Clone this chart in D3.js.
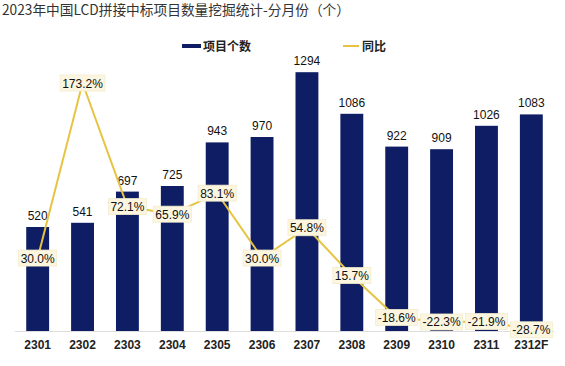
<!DOCTYPE html>
<html><head><meta charset="utf-8">
<script src="https://cdn.jsdelivr.net/npm/d3@7"></script>
<style>body{margin:0;background:#fff;} svg{display:block;}</style>
</head><body>
<svg id="c" width="565" height="366"></svg>
<script>
const categories = ["2301","2302","2303","2304","2305","2306","2307","2308","2309","2310","2311","2312F"];
const counts = [520,541,697,725,943,970,1294,1086,922,909,1026,1083];
const yoy = [30.0,173.2,72.1,65.9,83.1,30.0,54.8,15.7,-18.6,-22.3,-21.9,-28.7];
const title = "2023年中国LCD拼接中标项目数量挖掘统计-分月份（个）";
const legendNames = ["项目个数","同比"];

const svg = d3.select("#c");
const barColor = "#0f1e64", lineColor = "#e6c340";
const x = d3.scaleBand().domain(categories).range([15, 554]).paddingInner(0.49).paddingOuter(0.25);
const y = d3.scaleLinear().domain([0,1300]).range([331,71]);
const y2 = d3.scaleLinear().domain([-30,180]).range([331.4,74.7]);
const cx = d => x(d) + x.bandwidth()/2;

svg.append("text").attr("x",2).attr("y",15).attr("font-family","Noto Sans CJK SC").attr("font-size",14)
  .attr("fill","#333").attr("textLength",348).attr("lengthAdjust","spacingAndGlyphs").text(title);

// legend
const lg = svg.append("g").attr("font-family","Noto Sans CJK SC").attr("font-size",12).attr("font-weight","bold").attr("fill","#222");
lg.append("rect").attr("x",182).attr("y",44).attr("width",19).attr("height",4).attr("fill",barColor);
lg.append("text").attr("x",203).attr("y",50.5).text(legendNames[0]);
lg.append("line").attr("x1",343).attr("x2",359).attr("y1",46).attr("y2",46).attr("stroke",lineColor).attr("stroke-width",2);
lg.append("text").attr("x",362).attr("y",50.5).text(legendNames[1]);

// bars
svg.append("g").selectAll("rect").data(categories).join("rect")
  .attr("x", d=>x(d)).attr("width", x.bandwidth())
  .attr("y",(d,i)=>y(counts[i])).attr("height",(d,i)=>y(0)-y(counts[i]))
  .attr("fill",barColor);

// axis
const ax = svg.append("g").attr("transform",`translate(0,${y(0)})`).call(d3.axisBottom(x).tickSize(0).tickPadding(9));
ax.select(".domain").attr("stroke","#ddd").attr("d","M15,0.5H554");
ax.selectAll("text").attr("font-family","Liberation Sans, Arial").attr("font-size",12).attr("font-weight","bold").attr("fill","#222");

// bar labels
svg.append("g").selectAll("text").data(categories).join("text")
  .attr("x",cx).attr("y",(d,i)=>y(counts[i])-7).attr("text-anchor","middle")
  .attr("font-family","Liberation Sans, Arial").attr("font-size",12).attr("fill","#111")
  .text((d,i)=>counts[i]);

// line
const line = d3.line().x((d,i)=>cx(categories[i])).y(d=>y2(d));
svg.append("path").datum(yoy).attr("d",line).attr("fill","none").attr("stroke",lineColor).attr("stroke-width",2);

// pct labels
const pg = svg.append("g").selectAll("g").data(yoy).join("g")
  .attr("transform",(d,i)=>`translate(${cx(categories[i])},${y2(d)})`);
pg.each(function(d){
  const g = d3.select(this);
  const t = g.append("text").attr("text-anchor","middle").attr("y",4.5)
    .attr("font-family","Liberation Sans, Arial").attr("font-size",12).attr("fill","#111")
    .text(d.toFixed(1)+"%");
  const w = t.node().getComputedTextLength()+4;
  g.insert("rect","text").attr("x",-w/2).attr("y",-8).attr("width",w).attr("height",16)
    .attr("fill","#fcf6e0").attr("stroke","#f2eccc").attr("stroke-width",0.8);
});
</script>
</body></html>
